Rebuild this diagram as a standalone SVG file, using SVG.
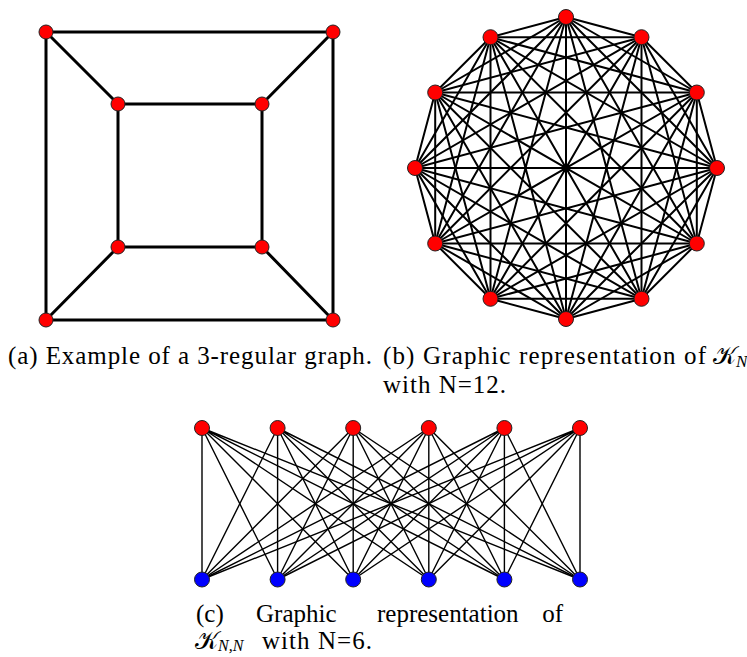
<svg xmlns="http://www.w3.org/2000/svg" width="747" height="657" viewBox="0 0 747 657">
<style>
.bg{fill:#fff}
.ea{stroke:#000;stroke-width:3;fill:none;stroke-linecap:round}
.eb{stroke:#000;stroke-width:2;fill:none;stroke-linejoin:round}
.ec{stroke:#000;stroke-width:1.4;fill:none}
.r{fill:#ff0000;stroke:#222;stroke-width:1}
.b{fill:#0000ff;stroke:#222;stroke-width:1}
.t{font-family:"Liberation Serif","DejaVu Serif",serif;font-size:25px;fill:#000}
.m{font-family:"DejaVu Sans","Noto Sans","Liberation Serif",serif}
.i{font-style:italic}
</style>
<rect class="bg" width="747" height="657"/>
<g id="connectors">
  <g id="edges-a" class="ea">
    <path d="M46 32H333V320H46Z"/>
    <path d="M118 104H262V247H118Z"/>
    <path d="M46 32L118 104M333 32L262 104M46 320L118 247M333 320L262 247"/>
  </g>
  <g id="edges-b" class="eb">
    <polygon points="566,17 641.5,37.2 696.8,92.5 717,168 696.8,243.5 641.5,298.8 566,319 490.5,298.8 435.2,243.5 415,168 435.2,92.5 490.5,37.2"/>
    <polygon points="566,17 641.5,298.8 435.2,92.5 717,168 435.2,243.5 641.5,37.2 566,319 490.5,37.2 696.8,243.5 415,168 696.8,92.5 490.5,298.8"/>
    <polygon points="566,17 696.8,92.5 696.8,243.5 566,319 435.2,243.5 435.2,92.5"/>
    <polygon points="641.5,37.2 717,168 641.5,298.8 490.5,298.8 415,168 490.5,37.2"/>
    <polygon points="566,17 717,168 566,319 415,168"/>
    <polygon points="641.5,37.2 696.8,243.5 490.5,298.8 435.2,92.5"/>
    <polygon points="696.8,92.5 641.5,298.8 435.2,243.5 490.5,37.2"/>
    <polygon points="566,17 696.8,243.5 435.2,243.5"/>
    <polygon points="641.5,37.2 641.5,298.8 415,168"/>
    <polygon points="696.8,92.5 566,319 435.2,92.5"/>
    <polygon points="717,168 490.5,298.8 490.5,37.2"/>
    <path d="M566 17L566 319M641.5 37.2L490.5 298.8M696.8 92.5L435.2 243.5M717 168L415 168M696.8 243.5L435.2 92.5M641.5 298.8L490.5 37.2"/>
  </g>
  <g id="edges-c" class="ec">
    <path d="M202 428L202 579.5M202 428L277.6 579.5M202 428L353.2 579.5M202 428L428.8 579.5M202 428L504.4 579.5M202 428L580 579.5"/>
    <path d="M277.6 428L202 579.5M277.6 428L277.6 579.5M277.6 428L353.2 579.5M277.6 428L428.8 579.5M277.6 428L504.4 579.5M277.6 428L580 579.5"/>
    <path d="M353.2 428L202 579.5M353.2 428L277.6 579.5M353.2 428L353.2 579.5M353.2 428L428.8 579.5M353.2 428L504.4 579.5M353.2 428L580 579.5"/>
    <path d="M428.8 428L202 579.5M428.8 428L277.6 579.5M428.8 428L353.2 579.5M428.8 428L428.8 579.5M428.8 428L504.4 579.5M428.8 428L580 579.5"/>
    <path d="M504.4 428L202 579.5M504.4 428L277.6 579.5M504.4 428L353.2 579.5M504.4 428L428.8 579.5M504.4 428L504.4 579.5M504.4 428L580 579.5"/>
    <path d="M580 428L202 579.5M580 428L277.6 579.5M580 428L353.2 579.5M580 428L428.8 579.5M580 428L504.4 579.5M580 428L580 579.5"/>
  </g>
</g>
<g id="a-n1"><circle class="r" cx="46" cy="32" r="7"/></g>
<g id="a-n2"><circle class="r" cx="333" cy="32" r="7"/></g>
<g id="a-n3"><circle class="r" cx="46" cy="320" r="7"/></g>
<g id="a-n4"><circle class="r" cx="333" cy="320" r="7"/></g>
<g id="a-n5"><circle class="r" cx="118" cy="104" r="7"/></g>
<g id="a-n6"><circle class="r" cx="262" cy="104" r="7"/></g>
<g id="a-n7"><circle class="r" cx="118" cy="247" r="7"/></g>
<g id="a-n8"><circle class="r" cx="262" cy="247" r="7"/></g>
<g id="b-n0"><circle class="r" cx="566" cy="17" r="7.5"/></g>
<g id="b-n1"><circle class="r" cx="641.5" cy="37.2" r="7.5"/></g>
<g id="b-n2"><circle class="r" cx="696.8" cy="92.5" r="7.5"/></g>
<g id="b-n3"><circle class="r" cx="717" cy="168" r="7.5"/></g>
<g id="b-n4"><circle class="r" cx="696.8" cy="243.5" r="7.5"/></g>
<g id="b-n5"><circle class="r" cx="641.5" cy="298.8" r="7.5"/></g>
<g id="b-n6"><circle class="r" cx="566" cy="319" r="7.5"/></g>
<g id="b-n7"><circle class="r" cx="490.5" cy="298.8" r="7.5"/></g>
<g id="b-n8"><circle class="r" cx="435.2" cy="243.5" r="7.5"/></g>
<g id="b-n9"><circle class="r" cx="415" cy="168" r="7.5"/></g>
<g id="b-n10"><circle class="r" cx="435.2" cy="92.5" r="7.5"/></g>
<g id="b-n11"><circle class="r" cx="490.5" cy="37.2" r="7.5"/></g>
<g id="c-t1"><circle class="r" cx="202" cy="428" r="7.5"/></g>
<g id="c-t2"><circle class="r" cx="277.6" cy="428" r="7.5"/></g>
<g id="c-t3"><circle class="r" cx="353.2" cy="428" r="7.5"/></g>
<g id="c-t4"><circle class="r" cx="428.8" cy="428" r="7.5"/></g>
<g id="c-t5"><circle class="r" cx="504.4" cy="428" r="7.5"/></g>
<g id="c-t6"><circle class="r" cx="580" cy="428" r="7.5"/></g>
<g id="c-b1"><circle class="b" cx="202" cy="579.5" r="7.5"/></g>
<g id="c-b2"><circle class="b" cx="277.6" cy="579.5" r="7.5"/></g>
<g id="c-b3"><circle class="b" cx="353.2" cy="579.5" r="7.5"/></g>
<g id="c-b4"><circle class="b" cx="428.8" cy="579.5" r="7.5"/></g>
<g id="c-b5"><circle class="b" cx="504.4" cy="579.5" r="7.5"/></g>
<g id="c-b6"><circle class="b" cx="580" cy="579.5" r="7.5"/></g>
<g id="captions">
  <text class="t" x="8" y="364" textLength="364" lengthAdjust="spacing">(a) Example of a 3-regular graph.</text>
  <text class="t" x="383" y="364" textLength="323" lengthAdjust="spacing">(b) Graphic representation of</text>
  <text class="t" x="713" y="364"><tspan class="m">𝒦</tspan><tspan class="i" font-size="17" dy="3">N</tspan></text>
  <text class="t" x="383" y="393" textLength="123" lengthAdjust="spacing">with N=12.</text>
  <text class="t" x="196" y="622">(c)</text>
  <text class="t" x="256" y="622">Graphic</text>
  <text class="t" x="377" y="622">representation</text>
  <text class="t" x="563" y="622" text-anchor="end">of</text>
  <text class="t" x="195" y="649"><tspan class="m">𝒦</tspan><tspan class="i" font-size="16" dy="2">N,N</tspan></text>
  <text class="t" x="262" y="649" textLength="110" lengthAdjust="spacing">with N=6.</text>
</g>
</svg>
